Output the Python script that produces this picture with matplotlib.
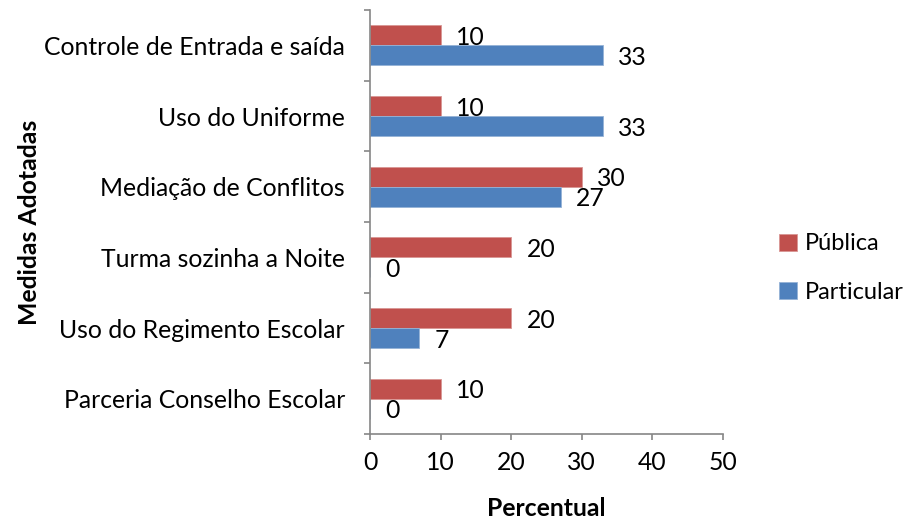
import numpy as np
import matplotlib
matplotlib.use("Agg")
import matplotlib.pyplot as plt
from matplotlib.ticker import FixedLocator

categories = ["Controle de Entrada e saída", "Uso do Uniforme", "Mediação de Conflitos",
              "Turma sozinha a Noite", "Uso do Regimento Escolar", "Parceria Conselho Escolar"]
publica = [10, 10, 30, 20, 20, 10]
particular = [33, 33, 27, 0, 7, 0]
series_names = ["Pública", "Particular"]
xticks = [0, 10, 20, 30, 40, 50]

plt.rcParams['font.family'] = ['Lato', 'DejaVu Sans']
FS = 17.8
RED = "#C0504D"
BLUE = "#4F81BD"
AX = "#868686"

fig = plt.figure(figsize=(9.08, 5.19), dpi=100)
ax = fig.add_axes([370/908, 1-434/519, 353/908, 424/519])

y = np.arange(len(categories))
h = 0.283
b1 = ax.barh(y - h/2, publica, height=h, color=RED, edgecolor="#D99694", linewidth=0.6, label=series_names[0])
b2 = ax.barh(y + h/2, particular, height=h, color=BLUE, edgecolor="#95B3D7", linewidth=0.6, label=series_names[1])

for bars in (b1, b2):
    for rect in bars:
        w = rect.get_width()
        ax.annotate(f"{w:g}", xy=(w, rect.get_y() + rect.get_height()/2),
                    xytext=(11, -1.5), textcoords="offset points",
                    ha="left", va="center", fontsize=FS)

ax.set_xlim(0, 50)
ax.set_ylim(len(categories) - 0.5, -0.5)
ax.set_xticks(xticks)
ax.set_xticklabels([str(t) for t in xticks])
ax.yaxis.set_major_locator(FixedLocator(np.arange(-0.5, len(categories), 1.0)))
ax.yaxis.set_major_formatter(plt.NullFormatter())
ax.yaxis.set_minor_locator(FixedLocator(y))
ax.set_yticklabels(categories, minor=True)
ax.tick_params(axis="y", which="minor", length=0, pad=18, labelsize=FS)
ax.tick_params(axis="y", which="major", length=4, color=AX, width=1.2)
ax.tick_params(axis="x", length=4, color=AX, width=1.2, pad=8, labelsize=FS)

for s in ("top", "right"):
    ax.spines[s].set_visible(False)
for s in ("left", "bottom"):
    ax.spines[s].set_color(AX)
    ax.spines[s].set_linewidth(1.2)

fig.text(546/908, 1-508/519, "Percentual", ha="center", va="center", fontsize=FS, fontweight="bold")
fig.text(30/908, 1-222/519, "Medidas Adotadas", ha="center", va="center", rotation=90,
         fontsize=FS, fontweight="bold")

fig.legend(handles=[b1, b2], labels=series_names, loc="center left",
           bbox_to_anchor=(779/908, 1-268/519), frameon=False, fontsize=17,
           borderpad=0, borderaxespad=0,
           handlelength=0.75, handleheight=0.75, handletextpad=0.35, labelspacing=1.15)

fig.savefig("out.png", dpi=100)
